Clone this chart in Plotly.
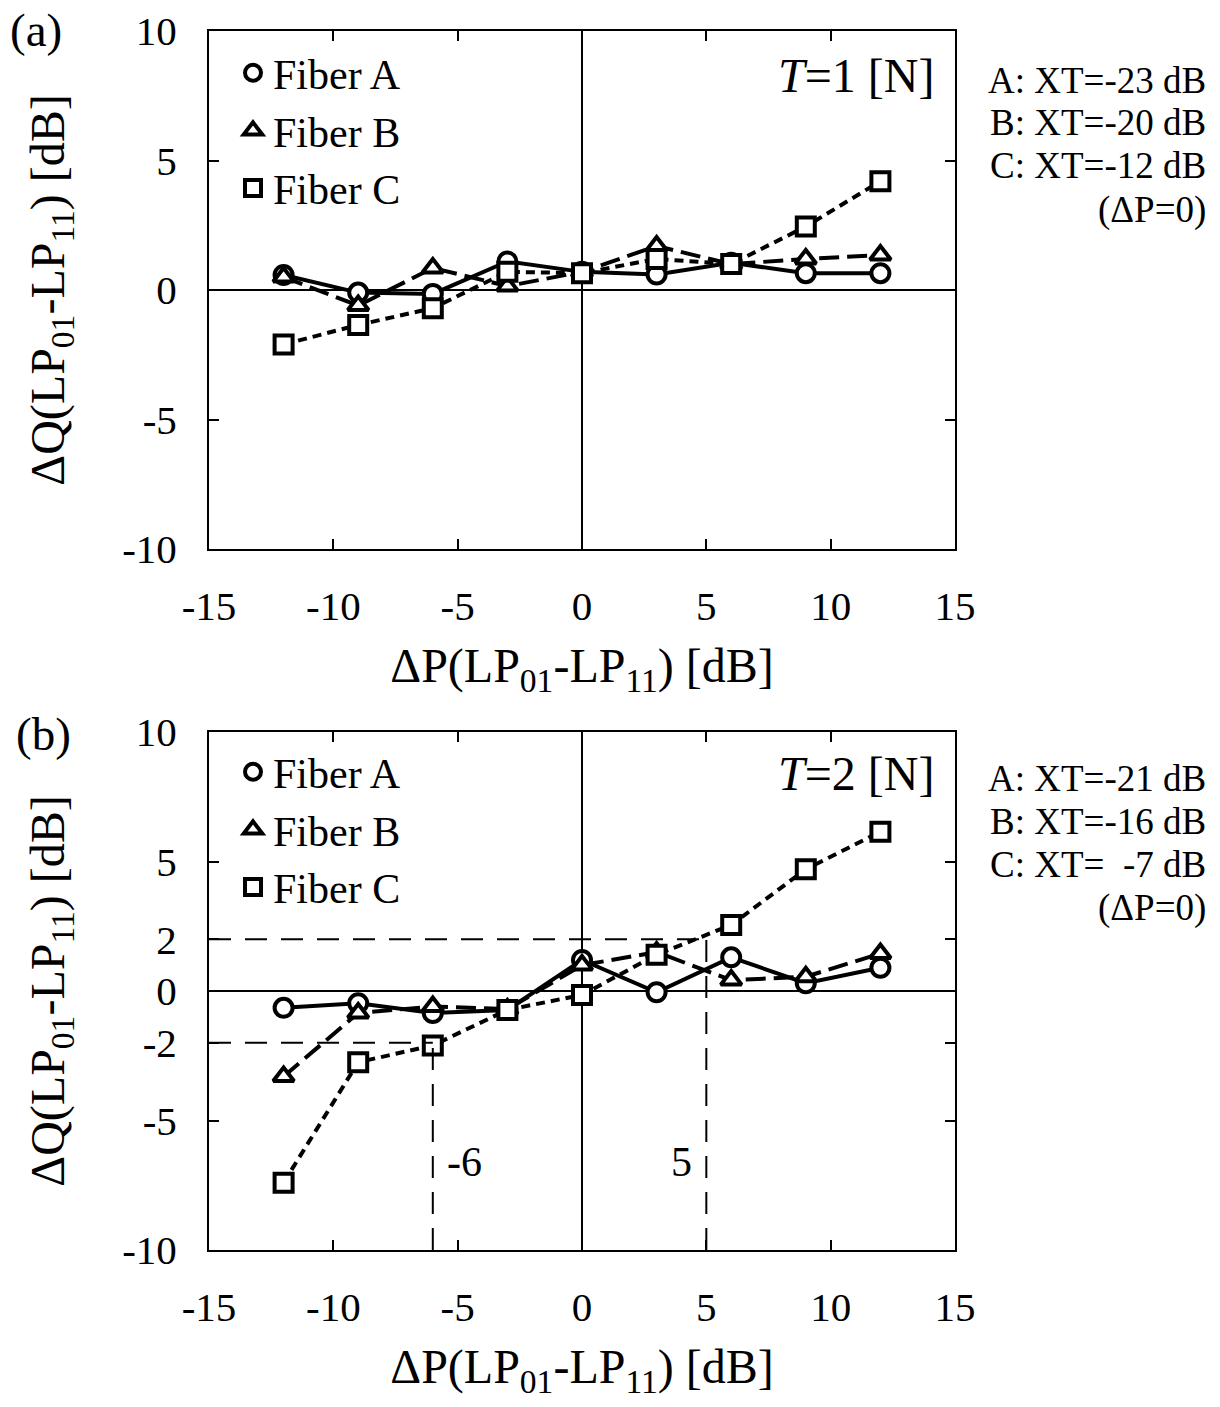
import plotly.graph_objects as go

# ---------------- data ----------------
dP = [-12, -9, -6, -3, 0, 3, 6, 9, 12]

# Panel (a): T = 1 N
qa_A = [0.58, -0.1, -0.15, 1.1, 0.7, 0.6, 1.05, 0.65, 0.65]
qa_B = [0.5, -0.6, 0.85, 0.15, 0.7, 1.7, 1.0, 1.2, 1.35]
qa_C = [-2.1, -1.35, -0.7, 0.7, 0.65, 1.2, 1.0, 2.45, 4.2]

# Panel (b): T = 2 N
qb_A = [-0.65, -0.47, -0.85, -0.73, 1.2, -0.05, 1.3, 0.3, 0.9]
qb_B = [-3.3, -0.85, -0.6, -0.7, 1.0, 1.5, 0.42, 0.55, 1.45]
qb_C = [-7.4, -2.75, -2.1, -0.73, -0.15, 1.4, 2.55, 4.7, 6.15]

# reference threshold lines in panel (b)
q_thresh = [2, -2]
p_cross = [5, -6]
p_labels = ["5", "-6"]

xticks = [-15, -10, -5, 0, 5, 10, 15]
yticks_a = [-10, -5, 0, 5, 10]
yticks_b = [-10, -5, -2, 0, 2, 5, 10]

fibers = ["Fiber A", "Fiber B", "Fiber C"]
xt_a = ["A: XT=-23 dB", "B: XT=-20 dB", "C: XT=-12 dB", "(\u0394P=0)"]
xt_b = ["A: XT=-21 dB", "B: XT=-16 dB", "C: XT=\u00a0\u00a0-7 dB", "(\u0394P=0)"]

# ---------------- style ----------------
FONT = "Liberation Serif, Times New Roman, serif"
W, H = 1220, 1407
symbols = ["circle", "triangle-up", "square"]
dashes = ["solid", "20px,8px", "9px,6px"]
MSIZE = 18
LW = 4


def lab(v):
    return str(v).replace("\u2212", "-")


fig = go.Figure()

panels = [
    (["x", "y"], [qa_A, qa_B, qa_C], "legend"),
    (["x2", "y2"], [qb_A, qb_B, qb_C], "legend2"),
]

for (ax, series, leg) in panels:
    for i, ys in enumerate(series):
        fig.add_trace(go.Scatter(
            x=dP, y=ys, xaxis=ax[0], yaxis=ax[1], mode="lines+markers",
            line=dict(color="black", width=LW, dash=dashes[i]),
            marker=dict(symbol=symbols[i], size=MSIZE,
                        color="white", line=dict(color="black", width=LW)),
            showlegend=False, cliponaxis=False))
        # legend-only marker entries
        fig.add_trace(go.Scatter(
            x=[None], y=[None], xaxis=ax[0], yaxis=ax[1], mode="markers",
            name=fibers[i], legend=leg,
            marker=dict(symbol=symbols[i], size=16,
                        color="white", line=dict(color="black", width=LW))))


def px_x(p):
    return p / W


def px_y(p):
    return 1 - p / H


xdom = [px_x(209), px_x(955)]
ydom_a = [px_y(549), px_y(31)]
ydom_b = [px_y(1250), px_y(732)]

axis_common = dict(
    showline=True, linecolor="black", linewidth=2, mirror="ticks",
    ticks="inside", ticklen=10, tickwidth=1.5, tickcolor="black",
    showgrid=False, zeroline=True, zerolinecolor="black", zerolinewidth=1.5,
    tickfont=dict(family=FONT, size=41, color="black"),
    automargin=False,
)

xtitle = "\u0394P(LP<sub>01</sub>-LP<sub>11</sub>) [dB]"
ytitle = "\u0394Q(LP<sub>01</sub>-LP<sub>11</sub>) [dB]"
TITLE_SIZE = 48

fig.update_layout(
    width=W, height=H,
    margin=dict(l=0, r=0, t=0, b=0, autoexpand=False),
    paper_bgcolor="white", plot_bgcolor="white",
    font=dict(family=FONT, color="black"),
    xaxis=dict(domain=xdom, anchor="y", range=[-15, 15], tickvals=xticks,
               ticktext=[lab(v) for v in xticks], ticklabelstandoff=20,
               title=dict(text=xtitle, font=dict(family=FONT, size=TITLE_SIZE), standoff=20),
               **axis_common),
    yaxis=dict(domain=ydom_a, anchor="x", range=[-10, 10], tickvals=yticks_a,
               ticktext=[lab(v) for v in yticks_a], ticklabelstandoff=22,
               title=dict(text=ytitle, font=dict(family=FONT, size=TITLE_SIZE), standoff=42),
               **axis_common),
    xaxis2=dict(domain=xdom, anchor="y2", range=[-15, 15], tickvals=xticks,
                ticktext=[lab(v) for v in xticks], ticklabelstandoff=20,
                title=dict(text=xtitle, font=dict(family=FONT, size=TITLE_SIZE), standoff=20),
                **axis_common),
    yaxis2=dict(domain=ydom_b, anchor="x2", range=[-10, 10], tickvals=yticks_b,
                ticktext=[lab(v) for v in yticks_b], ticklabelstandoff=22,
                title=dict(text=ytitle, font=dict(family=FONT, size=TITLE_SIZE), standoff=42),
                **axis_common),
    legend=dict(x=px_x(233), y=px_y(39), xanchor="left", yanchor="top",
                bgcolor="rgba(0,0,0,0)", font=dict(family=FONT, size=42),
                itemsizing="trace", tracegroupgap=0),
    legend2=dict(x=px_x(233), y=px_y(738), xanchor="left", yanchor="top",
                 bgcolor="rgba(0,0,0,0)", font=dict(family=FONT, size=42),
                 itemsizing="trace", tracegroupgap=0),
)

annotations = []
# panel labels
annotations.append(dict(text="(a)", x=px_x(8), y=px_y(30), xref="paper", yref="paper",
                        xanchor="left", yanchor="middle", showarrow=False,
                        font=dict(family=FONT, size=47)))
annotations.append(dict(text="(b)", x=px_x(14), y=px_y(734), xref="paper", yref="paper",
                        xanchor="left", yanchor="middle", showarrow=False,
                        font=dict(family=FONT, size=47)))
# T labels
annotations.append(dict(text="<i>T</i>=1 [N]", x=px_x(936), y=px_y(75), xref="paper", yref="paper",
                        xanchor="right", yanchor="middle", showarrow=False,
                        font=dict(family=FONT, size=48)))
annotations.append(dict(text="<i>T</i>=2 [N]", x=px_x(936), y=px_y(773), xref="paper", yref="paper",
                        xanchor="right", yanchor="middle", showarrow=False,
                        font=dict(family=FONT, size=48)))
# XT notes
for k, (ta, tb) in enumerate(zip(xt_a, xt_b)):
    ya = [80, 123, 166, 210][k]
    annotations.append(dict(text=ta, x=px_x(1208), y=px_y(ya), xref="paper", yref="paper",
                            xanchor="right", yanchor="middle", showarrow=False,
                            font=dict(family=FONT, size=37)))
    annotations.append(dict(text=tb, x=px_x(1208), y=px_y(ya + 698), xref="paper", yref="paper",
                            xanchor="right", yanchor="middle", showarrow=False,
                            font=dict(family=FONT, size=37)))

shapes = []
for q, p, plab in zip(q_thresh, p_cross, p_labels):
    shapes.append(dict(type="line", xref="x2", yref="y2", x0=-15, x1=p, y0=q, y1=q,
                       line=dict(color="black", width=2, dash="22px,14px")))
    shapes.append(dict(type="line", xref="x2", yref="y2", x0=p, x1=p, y0=-10, y1=q,
                       line=dict(color="black", width=2, dash="22px,14px")))
    annotations.append(dict(text=plab, x=p, y=-6.6, xref="x2", yref="y2",
                            xanchor="left" if p < 0 else "right",
                            xshift=12 if p < 0 else -12,
                            yanchor="middle", showarrow=False,
                            font=dict(family=FONT, size=42)))

fig.update_layout(annotations=annotations, shapes=shapes)

fig.write_html("out.html", config={"displayModeBar": False},
               post_script="document.body.style.margin='0';")
